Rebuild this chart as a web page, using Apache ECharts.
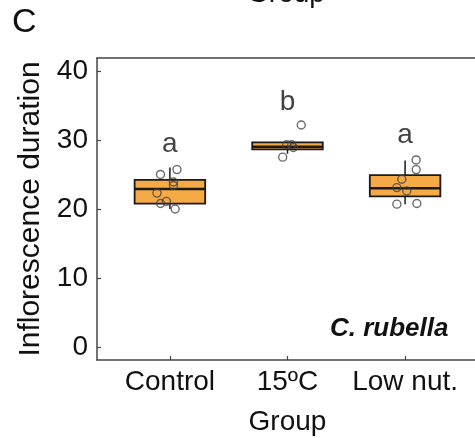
<!DOCTYPE html>
<html>
<head>
<meta charset="utf-8">
<script src="https://cdn.jsdelivr.net/npm/echarts@6/dist/echarts.min.js"></script>
<style>html,body{margin:0;padding:0;background:#fff}#c{width:475px;height:438px}</style>
</head>
<body>
<div id="c"></div>
<script>
const categories = ['Control', '15ºC', 'Low nut.'];
const groupPos = [1, 2, 3];
const whiskerLow = [20.0, 28.0, 20.7];
const q1 = [20.77, 28.63, 21.84];
const medians = [22.9, 29.0, 23.0];
const q3 = [24.2, 29.65, 24.9];
const whiskerHigh = [26.0, 29.65, 27.0];
const pointX = [0.92, 1.06, 1.03, 1.03, 0.89, 0.92, 0.97, 1.045,
                2.117, 1.959, 1.993, 2.036, 2.05,
                3.094, 3.094, 2.972, 2.93, 3.014, 2.93, 3.1];
const pointY = [25.0, 25.7, 23.9, 23.4, 22.3, 20.8, 21.1, 20.0,
                32.15, 27.5, 29.3, 29.3, 28.9,
                27.1, 25.7, 24.3, 23.1, 22.6, 20.7, 20.8];
const sigLetters = ['a', 'b', 'a'];
const letterY = [29.4, 35.4, 30.7];
const yTicks = [0, 10, 20, 30, 40];

const FONT = '"Liberation Sans", Arial, Helvetica, sans-serif';
const chart = echarts.init(document.getElementById('c'), null, {renderer: 'canvas'});

const boxData = groupPos.map((x, i) => [x, whiskerLow[i], q1[i], medians[i], q3[i], whiskerHigh[i]]);
const pts = pointX.map((x, i) => [x, pointY[i]]);
const letters = groupPos.map((x, i) => [x, letterY[i]]);
const HALF = 0.3;
const XMIN = 0.38, XMAX = 3.62;

chart.setOption({
  animation: false,
  grid: {left: 97, right: -3, top: 58, bottom: 78, outerBoundsMode: 'none', containLabel: false},
  graphic: [
    {type: 'text', left: 12, top: 6, style: {text: 'C', fontSize: 34, fontFamily: FONT, fill: '#111'}},
    {type: 'text', x: 286, y: -6, style: {text: 'Group', fontSize: 28, fontFamily: FONT, fill: '#111', align: 'center', verticalAlign: 'middle'}},
    {type: 'text', x: 330, y: 329, style: {text: 'C. rubella', fontSize: 26, fontWeight: 'bold', fontStyle: 'italic', fontFamily: FONT, fill: '#111', align: 'left', verticalAlign: 'middle'}}
  ],
  xAxis: [{
    type: 'value', min: XMIN, max: XMAX,
    name: 'Group', nameLocation: 'middle', nameGap: 48,
    nameTextStyle: {fontSize: 28, fontFamily: FONT, color: '#111'},
    axisLine: {show: true, onZero: false, lineStyle: {color: '#444', width: 1.5}},
    axisTick: {show: true, inside: true, length: 4, customValues: groupPos, lineStyle: {color: '#444', width: 1.2}},
    axisLabel: {customValues: groupPos, formatter: v => categories[Math.round(v) - 1], fontSize: 28, fontFamily: FONT, color: '#111', margin: 8},
    splitLine: {show: false}
  }, {
    type: 'value', position: 'top', min: XMIN, max: XMAX,
    axisLine: {show: true, onZero: false, lineStyle: {color: '#444', width: 1.5}},
    axisTick: {show: false}, axisLabel: {show: false}, splitLine: {show: false}
  }],
  yAxis: {
    type: 'value', min: -1.85, max: 41.85,
    name: 'Inflorescence duration', nameLocation: 'middle', nameGap: 46,
    nameTextStyle: {fontSize: 30, fontFamily: FONT, color: '#111'},
    axisLine: {show: true, onZero: false, lineStyle: {color: '#444', width: 1.5}},
    axisTick: {show: true, inside: true, length: 4, customValues: yTicks, lineStyle: {color: '#444', width: 1.2}},
    axisLabel: {customValues: yTicks, fontSize: 28, fontFamily: FONT, color: '#111', margin: 9},
    splitLine: {show: false}
  },
  series: [
    {
      type: 'custom',
      data: boxData,
      renderItem: function (params, api) {
        const x = api.value(0), lo = api.value(1), a = api.value(2), m = api.value(3), b = api.value(4), hi = api.value(5);
        const pTL = api.coord([x - HALF, b]);
        const pBR = api.coord([x + HALF, a]);
        const pC_lo = api.coord([x, lo]);
        const pC_a = api.coord([x, a]);
        const pC_b = api.coord([x, b]);
        const pC_hi = api.coord([x, hi]);
        const mL = api.coord([x - HALF, m]);
        const mR = api.coord([x + HALF, m]);
        const lineStyle = {stroke: '#1a1a1a', lineWidth: 1.5};
        return {
          type: 'group',
          children: [
            {type: 'line', shape: {x1: pC_b[0], y1: pC_b[1], x2: pC_hi[0], y2: pC_hi[1]}, style: lineStyle},
            {type: 'line', shape: {x1: pC_a[0], y1: pC_a[1], x2: pC_lo[0], y2: pC_lo[1]}, style: lineStyle},
            {type: 'rect', shape: {x: pTL[0], y: pTL[1], width: pBR[0] - pTL[0], height: pBR[1] - pTL[1]}, style: {fill: '#F6AA45', stroke: '#1a1a1a', lineWidth: 1.8}},
            {type: 'line', shape: {x1: mL[0], y1: mL[1], x2: mR[0], y2: mR[1]}, style: {stroke: '#1a1a1a', lineWidth: 2.6}}
          ]
        };
      },
      z: 2
    },
    {
      type: 'scatter',
      data: pts,
      symbol: 'circle', symbolSize: 8,
      itemStyle: {color: 'rgba(0,0,0,0)', borderColor: '#444', borderWidth: 1.4},
      z: 3
    },
    {
      type: 'scatter',
      data: letters,
      symbolSize: 0,
      label: {show: true, position: 'inside', formatter: p => sigLetters[p.dataIndex], fontSize: 28, fontFamily: FONT, color: '#111'},
      z: 4
    }
  ]
});
</script>
</body>
</html>
